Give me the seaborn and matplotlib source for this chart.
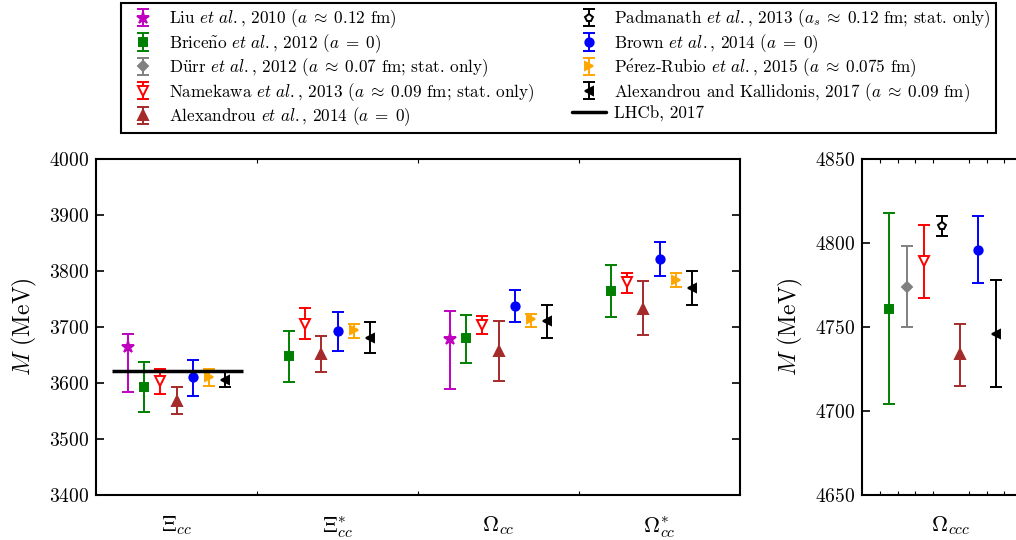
import numpy as np
import matplotlib.pyplot as plt
import seaborn as sns
from matplotlib.lines import Line2D

sns.set_theme(style='ticks')
plt.rcParams['font.family'] = ['cmr10', 'DejaVu Serif']
plt.rcParams['mathtext.fontset'] = 'cm'
plt.rcParams['axes.formatter.use_mathtext'] = True
for key in ['text.color', 'axes.labelcolor', 'xtick.color', 'ytick.color', 'axes.edgecolor']:
    plt.rcParams[key] = 'black'

# categories (baryons)
categories = [r'$\Xi_{cc}$', r'$\Xi_{cc}^{*}$', r'$\Omega_{cc}$', r'$\Omega_{cc}^{*}$', r'$\Omega_{ccc}$']

nan = np.nan
# central values (MeV) and upper / lower errors, one entry per category
liu_val = [3665, nan, 3679, nan, nan]
liu_up = [22, nan, 50, nan, nan]
liu_dn = [81, nan, 90, nan, nan]

briceno_val = [3593, 3648, 3680, 3764, 4761]
briceno_up = [44, 45, 41, 47, 57]
briceno_dn = [44, 46, 45, 46, 57]

durr_val = [nan, nan, nan, nan, 4774]
durr_up = [nan, nan, nan, nan, 24]
durr_dn = [nan, nan, nan, nan, 24]

namekawa_val = [3603, 3706, 3703, 3781, 4789]
namekawa_up = [22, 28, 16, 16, 22]
namekawa_dn = [23, 28, 16, 20, 22]

padmanath_val = [nan, nan, nan, nan, 4810]
padmanath_up = [nan, nan, nan, nan, 6]
padmanath_dn = [nan, nan, nan, nan, 6]

alex14_val = [3568, 3652, 3658, 3733, 4734]
alex14_up = [24, 32, 53, 49, 18]
alex14_dn = [24, 32, 54, 47, 19]

brown_val = [3610, 3692, 3738, 3821, 4796]
brown_up = [31, 35, 28, 30, 20]
brown_dn = [33, 34, 29, 30, 20]

perez_val = [3610, 3694, 3714, 3784, nan]
perez_up = [15, 12, 9, 12, nan]
perez_dn = [16, 13, 14, 12, nan]

ak_val = [3606, 3681, 3711, 3770, 4746]
ak_up = [13, 28, 29, 30, 32]
ak_dn = [14, 27, 30, 31, 32]

lhcb_xicc = 3621.4

series = [
    (r'Liu $et\ al.$, 2010 ($a\;\approx\;0.12$ fm)', liu_val, liu_up, liu_dn, '*', '#bf00bf', True, 9),
    (r'Brice$\tilde{\mathrm{n}}$o $et\ al.$, 2012 ($a\;=\;0$)', briceno_val, briceno_up, briceno_dn, 's', 'green', True, 5.5),
    (r'D$\ddot{\mathrm{u}}$rr $et\ al.$, 2012 ($a\;\approx\;0.07$ fm; stat. only)', durr_val, durr_up, durr_dn, 'D', 'gray', True, 5.5),
    (r'Namekawa $et\ al.$, 2013 ($a\;\approx\;0.09$ fm; stat. only)', namekawa_val, namekawa_up, namekawa_dn, 'v', 'red', False, 6.5),
    (r'Padmanath $et\ al.$, 2013 ($a_s\;\approx\;0.12$ fm; stat. only)', padmanath_val, padmanath_up, padmanath_dn, 'p', 'black', False, 6),
    (r'Alexandrou $et\ al.$, 2014 ($a\;=\;0$)', alex14_val, alex14_up, alex14_dn, '^', 'brown', True, 6.5),
    (r'Brown $et\ al.$, 2014 ($a\;=\;0$)', brown_val, brown_up, brown_dn, 'o', 'blue', True, 6),
    (r'P$\acute{\mathrm{e}}$rez-Rubio $et\ al.$, 2015 ($a\;\approx\;0.075$ fm)', perez_val, perez_up, perez_dn, '>', 'orange', True, 6),
    (r'Alexandrou and Kallidonis, 2017 ($a\;\approx\;0.09$ fm)', ak_val, ak_up, ak_dn, '<', 'black', True, 6),
]

fig = plt.figure(figsize=(10.16, 5.40), dpi=100)
ax1 = fig.add_axes([96 / 1016, 45 / 540, 644 / 1016, 336 / 540])
ax2 = fig.add_axes([862 / 1016, 45 / 540, 178 / 1016, 336 / 540])

n_slots = [7, 7, 7, 7, 8]
step = 0.1
handles = {}
for c in range(len(categories)):
    ax = ax1 if c < 4 else ax2
    x0 = c if c < 4 else 0
    present = [s for s in series if not np.isnan(s[1][c])]
    for i, (lab, val, up, dn, mk, col, filled, ms) in enumerate(present):
        x = x0 + (i - (n_slots[c] - 1) / 2) * step
        h = ax.errorbar([x], [val[c]], yerr=[[dn[c]], [up[c]]], fmt=mk, color=col,
                        mfc=col if filled else 'white', mec=col, ms=ms, mew=1.4,
                        elinewidth=1.4, capsize=4, capthick=1.4)
        handles[lab] = h

# LHCb measurement
ax1.hlines(lhcb_xicc, -0.4, 0.41, color='black', lw=2.5, zorder=5)

ax1.set_xlim(-0.5, 3.5)
ax1.set_ylim(3400, 4000)
ax1.set_yticks(np.arange(3400, 4001, 100))
ax1.set_xticks(range(4))
ax1.set_xticklabels(categories[:4], fontsize=16)
ax1.set_xticks([0.5, 1.5, 2.5], minor=True)

ax2.set_xlim(-0.5, 0.5)
ax2.set_ylim(4650, 4850)
ax2.set_yticks(np.arange(4650, 4851, 50))
ax2.set_xticks([0])
ax2.set_xticklabels(categories[4:], fontsize=16)
ax2.set_xticks(np.arange(-0.4, 0.41, 0.1), minor=True)

for ax in (ax1, ax2):
    ax.set_ylabel(r'$M$ (MeV)', fontsize=17, labelpad=7)
    ax.tick_params(axis='y', which='both', direction='in', left=True, right=True,
                   length=6, width=1.2, labelsize=14, pad=5)
    ax.tick_params(axis='x', which='major', length=0, pad=14)
    ax.tick_params(axis='x', which='minor', direction='in', top=True, bottom=True,
                   length=3, width=0.8)
    for sp in ax.spines.values():
        sp.set_visible(True)
        sp.set_linewidth(1.5)
        sp.set_color('black')

order = [0, 1, 2, 3, 5, 4, 6, 7, 8]
leg_handles = [handles[series[i][0]] for i in order]
leg_labels = [series[i][0] for i in order]
leg_handles.append(Line2D([], [], color='black', lw=2.5))
leg_labels.append('LHCb, 2017')

leg = fig.legend(leg_handles, leg_labels, loc='upper center', bbox_to_anchor=(0.55, 1.0),
                 ncol=2, fontsize=12.3, frameon=True, fancybox=False, framealpha=1,
                 edgecolor='black', labelspacing=0.1, columnspacing=2.2,
                 handletextpad=0.5, borderpad=0.3, borderaxespad=0.15)
leg.get_frame().set_linewidth(1.5)

fig.savefig('out.png', dpi=100)
